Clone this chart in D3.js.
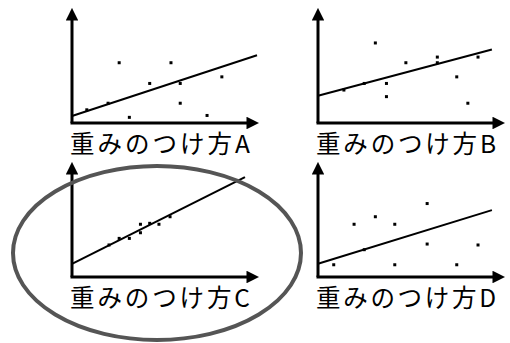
<!DOCTYPE html>
<html><head><meta charset="utf-8">
<script src="https://cdn.jsdelivr.net/npm/d3@7"></script>
<style>html,body{margin:0;padding:0;background:#fff}</style>
</head><body>
<script>
// Panel labels
const labels = ["重みのつけ方A", "重みのつけ方B", "重みのつけ方C", "重みのつけ方D"];
// Scatter points per panel: [x, y]
const pointsA = [[0.8,0.7],[1.95,1.05],[2.55,3.2],[3.1,0.3],[4.2,2.1],[5.35,3.2],[5.85,2.1],[5.85,1.05],[7.3,0.4],[8.1,2.45]];
const pointsB = [[1.4,1.75],[2.5,2.1],[3.1,4.25],[3.7,2.1],[3.7,1.4],[4.75,3.2],[6.45,3.5],[6.45,3.2],[7.5,2.45],[8.1,1.05],[8.65,3.5]];
const pointsC = [[2.0,1.7],[2.55,2.05],[3.1,2.05],[3.7,2.8],[3.7,2.35],[4.2,2.85],[4.7,2.8],[5.3,3.2]];
const pointsD = [[0.85,0.65],[1.95,2.8],[2.5,1.45],[3.1,3.2],[4.15,2.8],[4.15,0.65],[5.9,3.9],[5.9,1.75],[7.5,0.65],[8.65,1.7]];
// Fitted lines: [[x0,y0],[x1,y1]]
const lineA = [[0,0.37],[10,3.6]];
const lineB = [[0,1.45],[9.4,3.9]];
const lineC = [[0,0.7],[9.35,5.3]];
const lineD = [[0,0.7],[9.4,3.55]];

const panels = [
  {label: labels[0], pts: pointsA, line: lineA, ox: 72, oy: 123},
  {label: labels[1], pts: pointsB, line: lineB, ox: 318, oy: 123},
  {label: labels[2], pts: pointsC, line: lineC, ox: 72, oy: 277},
  {label: labels[3], pts: pointsD, line: lineD, ox: 318, oy: 277}
];

const svg = d3.select("body").append("svg").attr("width",510).attr("height",343);

const defs = svg.append("defs");
defs.append("marker").attr("id","arr").attr("viewBox","0 0 10 10")
  .attr("refX",2).attr("refY",5).attr("markerWidth",4.2).attr("markerHeight",4.2)
  .attr("markerUnits","strokeWidth").attr("orient","auto")
  .append("path").attr("d","M0,0 L10,5 L0,10 Z").attr("fill","#000");

const W = 185, H = 113;
panels.forEach(p => {
  const x = d3.scaleLinear().domain([0,10]).range([p.ox, p.ox + W]);
  const y = d3.scaleLinear().domain([0,6]).range([p.oy, p.oy - H]);
  const g = svg.append("g");
  // axes
  g.append("line").attr("x1", x(0)).attr("y1", y(0)).attr("x2", x(0)).attr("y2", y(6)+8)
    .attr("stroke","#000").attr("stroke-width",3).attr("marker-end","url(#arr)");
  g.append("line").attr("x1", x(0)-1.5).attr("y1", y(0)).attr("x2", x(10)-8).attr("y2", y(0))
    .attr("stroke","#000").attr("stroke-width",3).attr("marker-end","url(#arr)");
  // fitted line
  g.append("line").attr("x1", x(p.line[0][0])).attr("y1", y(p.line[0][1]))
    .attr("x2", x(p.line[1][0])).attr("y2", y(p.line[1][1]))
    .attr("stroke","#000").attr("stroke-width",2);
  // points
  g.selectAll("rect.pt").data(p.pts).join("rect").attr("class","pt")
    .attr("x", d => x(d[0]) - 1.5).attr("y", d => y(d[1]) - 1.5)
    .attr("width",3).attr("height",3).attr("fill","#000");
  // label
  g.append("text").attr("x", p.ox - 2).attr("y", p.oy + 30)
    .attr("font-family","'Noto Sans CJK JP', 'Noto Sans', sans-serif")
    .attr("font-size",24.5).attr("fill","#000")
    .attr("textLength",180).attr("lengthAdjust","spacing")
    .text(p.label);
});

// highlight ellipse around panel C
svg.append("ellipse").attr("cx",157).attr("cy",253).attr("rx",144).attr("ry",87)
  .attr("fill","none").attr("stroke","#555").attr("stroke-width",4);
</script>
</body></html>
